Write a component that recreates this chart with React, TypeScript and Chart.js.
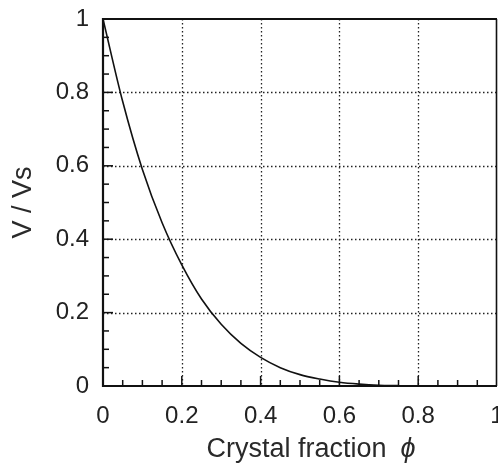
import React, { useEffect, useRef } from "react";
import { Chart, registerables } from "chart.js";

Chart.register(...registerables);

// Data
const phiValues = [0, 0.05, 0.1, 0.15, 0.2, 0.25, 0.3, 0.35, 0.4, 0.45, 0.5, 0.55, 0.6, 0.65, 0.7, 0.75];
const ratioValues = [1.0, 0.775, 0.59, 0.445, 0.33, 0.237, 0.168, 0.116, 0.078, 0.05, 0.031, 0.019, 0.01, 0.005, 0.002, 0.001];

const xTickLabels = ["0", "0.2", "0.4", "0.6", "0.8", "1"];
const yTickLabels = ["0", "0.2", "0.4", "0.6", "0.8", "1"];
const gridValues = [0.2, 0.4, 0.6, 0.8];
const minorStep = 0.05;

const xTitleMain = "Crystal fraction";
const xTitleSymbol = "ϕ";
const yTitle = "V / Vs";

const FONT = "'Liberation Sans', Arial, Helvetica, sans-serif";
const TEXT = "#222";

const framePlugin = {
  id: "frameAndTicks",
  beforeDatasetsDraw(chart: any) {
    const { ctx, chartArea, scales } = chart;
    const { left, right, top, bottom } = chartArea;
    ctx.save();
    ctx.strokeStyle = "#222";
    ctx.lineWidth = 1.3;
    ctx.setLineDash([1.5, 2.5]);
    for (const v of gridValues) {
      const px = Math.round(scales.x.getPixelForValue(v)) + 0.5;
      ctx.beginPath();
      ctx.moveTo(px, top);
      ctx.lineTo(px, bottom);
      ctx.stroke();
      const py = Math.round(scales.y.getPixelForValue(v)) + 0.5;
      ctx.beginPath();
      ctx.moveTo(left, py);
      ctx.lineTo(right, py);
      ctx.stroke();
    }
    ctx.restore();
  },
  afterDatasetsDraw(chart: any) {
    const { ctx, chartArea, scales } = chart;
    const { left, right, top, bottom } = chartArea;
    ctx.save();
    ctx.setLineDash([]);
    ctx.strokeStyle = "#111";
    // ticks (inward)
    ctx.lineWidth = 1.5;
    const n = Math.round(1 / minorStep);
    for (let i = 1; i < n; i++) {
      const v = i * minorStep;
      const major = i % 4 === 0;
      const len = major ? 10 : 6;
      const px = scales.x.getPixelForValue(v);
      ctx.beginPath();
      ctx.moveTo(px, bottom);
      ctx.lineTo(px, bottom - len);
      ctx.stroke();
      const py = scales.y.getPixelForValue(v);
      ctx.beginPath();
      ctx.moveTo(left, py);
      ctx.lineTo(left + len, py);
      ctx.stroke();
    }
    // frame
    ctx.lineWidth = 2.2;
    ctx.beginPath();
    ctx.moveTo(left, top);
    ctx.lineTo(right, top);
    ctx.moveTo(left, top - 1);
    ctx.lineTo(left, bottom + 1);
    ctx.moveTo(left - 1, bottom);
    ctx.lineTo(right, bottom);
    ctx.stroke();
    ctx.lineWidth = 1.6;
    ctx.beginPath();
    ctx.moveTo(right - 0.5, top);
    ctx.lineTo(right - 0.5, bottom);
    ctx.stroke();

    // x-axis title with italic symbol
    ctx.fillStyle = "#2a2a2a";
    ctx.textBaseline = "alphabetic";
    ctx.textAlign = "left";
    ctx.font = `27px ${FONT}`;
    const mainW = ctx.measureText(xTitleMain).width;
    ctx.font = `italic 27px ${FONT}`;
    const symW = ctx.measureText(xTitleSymbol).width;
    const gap = 14;
    const total = mainW + gap + symW;
    const cx = (left + right) / 2 + 11;
    const startX = cx - total / 2;
    const baseY = 457;
    ctx.font = `27px ${FONT}`;
    ctx.fillText(xTitleMain, startX, baseY);
    ctx.font = `italic 27px ${FONT}`;
    ctx.fillText(xTitleSymbol, startX + mainW + gap, baseY);
    ctx.restore();
  },
};

export default function App() {
  const canvasRef = useRef<HTMLCanvasElement | null>(null);

  useEffect(() => {
    if (!canvasRef.current) return;
    const chart = new Chart(canvasRef.current, {
      type: "line",
      data: {
        datasets: [
          {
            data: phiValues.map((p, i) => ({ x: p, y: ratioValues[i] })),
            borderColor: "#111",
            borderWidth: 1.6,
            pointRadius: 0,
            fill: false,
            cubicInterpolationMode: "monotone",
          },
        ],
      },
      options: {
        responsive: false,
        animation: false,
        layout: { padding: { top: 19, right: 1, left: 0, bottom: 0 } },
        plugins: {
          legend: { display: false },
          tooltip: { enabled: false },
        },
        scales: {
          x: {
            type: "linear",
            min: 0,
            max: 1,
            grid: { display: false, drawTicks: false },
            border: { display: false },
            ticks: {
              stepSize: 0.2,
              padding: 16,
              color: TEXT,
              font: { family: FONT, size: 24 },
              maxRotation: 0,
              autoSkip: false,
              callback: (_v: any, i: number) => xTickLabels[i],
            },
            title: { display: false },
            afterFit: (s: any) => {
              s.height = 78;
              s.paddingLeft = 0;
              s.paddingRight = 0;
            },
          },
          y: {
            type: "linear",
            min: 0,
            max: 1,
            grid: { display: false, drawTicks: false },
            border: { display: false },
            ticks: {
              stepSize: 0.2,
              padding: 14,
              color: TEXT,
              font: { family: FONT, size: 24 },
              autoSkip: false,
              callback: (_v: any, i: number) => yTickLabels[i],
            },
            title: {
              display: true,
              text: yTitle,
              color: "#2a2a2a",
              font: { family: FONT, size: 27 },
              padding: { top: 7, bottom: 0 },
            },
            afterFit: (s: any) => {
              s.width = 103;
              s.paddingTop = 0;
              s.paddingBottom = 0;
            },
          },
        },
      },
      plugins: [framePlugin],
    } as any);
    return () => chart.destroy();
  }, []);

  return (
    <div style={{ position: "absolute", left: 0, top: 0, width: 498, height: 464, background: "#fff" }}>
      <canvas ref={canvasRef} width={498} height={464} />
    </div>
  );
}
